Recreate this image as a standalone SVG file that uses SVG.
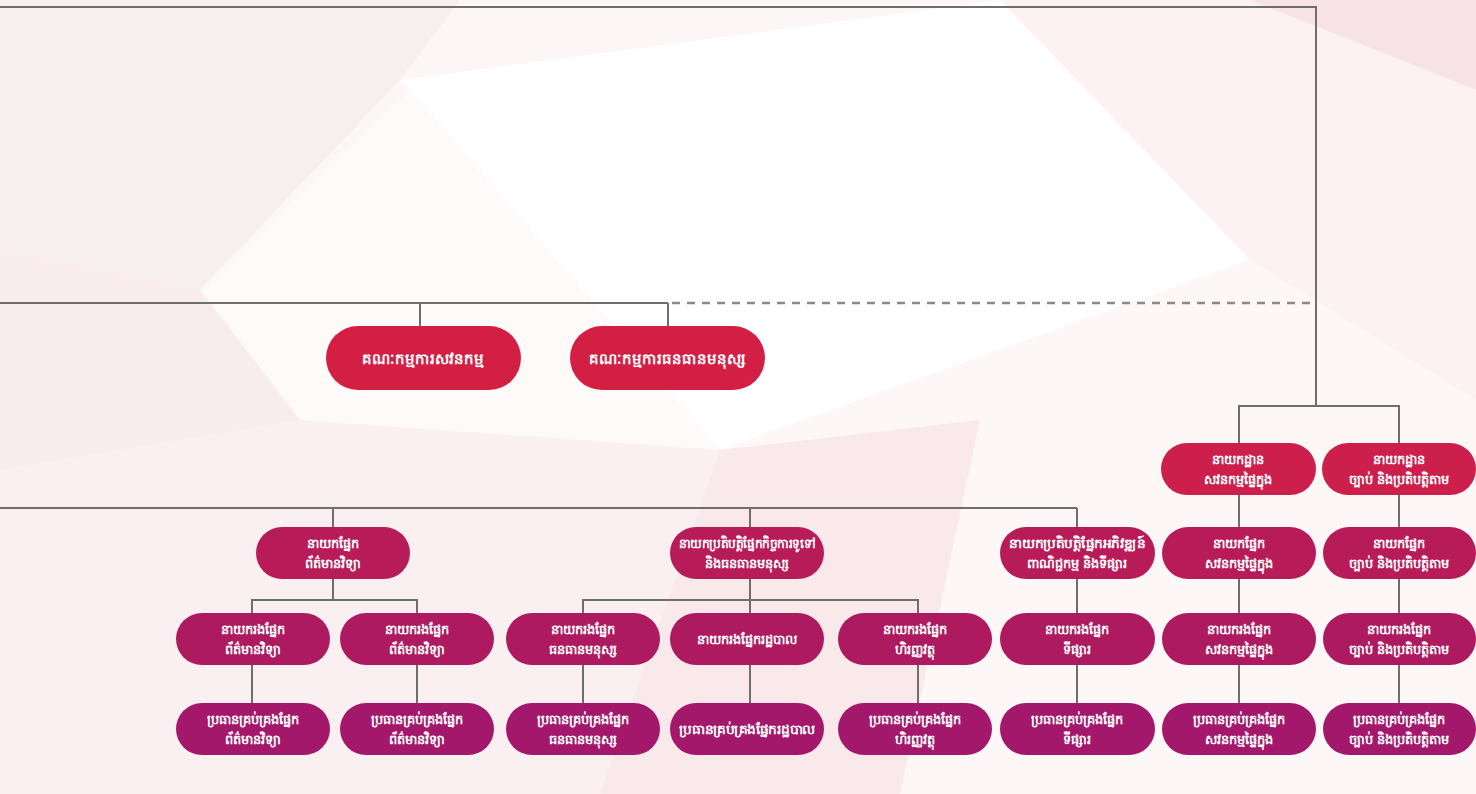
<svg xmlns="http://www.w3.org/2000/svg" width="1476" height="794" viewBox="0 0 1476 794">
<style>
.ln{stroke:#6e6e6e;stroke-width:2;fill:none}
.dash{stroke:#8a8a8a;stroke-width:2.5;fill:none;stroke-dasharray:8 7}
.t{font-family:"Noto Sans","DejaVu Sans",sans-serif;font-weight:bold;font-size:13px;fill:#ffffff;text-anchor:middle}
.tc{font-size:15px}
.cm{fill:#d41f45}
.l1{fill:#cc1f4c}
.l2{fill:#b81c58}
.l3{fill:#ad1a60}
.l4{fill:#a3186a}
</style>
<rect width="1476" height="794" fill="#fcf6f6"/>
<g id="background">
<polygon points="0,0 460,0 400,80 200,290 0,250" fill="#f7eeef"/>
<polygon points="400,80 1000,0 1250,260 720,450 410,90" fill="#ffffff"/>
<polygon points="200,290 410,90 720,450 300,420" fill="#fefafa"/>
<polygon points="1000,0 1476,0 1476,400 1250,260" fill="#fcf2f3"/>
<polygon points="0,250 200,290 300,420 0,470" fill="#f9eced"/>
<polygon points="720,450 1250,260 1476,400 1476,794 900,794" fill="#fdf7f7"/>
<polygon points="0,470 300,420 720,450 600,794 0,794" fill="#fbf0f1"/>
<polygon points="720,450 980,420 900,794 600,794" fill="#f9e9eb"/>
<polygon points="1250,0 1476,0 1476,90" fill="#f7e3e6"/>
</g>
<g id="connectors">
<polyline class="ln" points="0,7 1316,7 1316,406"/>
<line class="ln" x1="0" y1="303" x2="668" y2="303"/>
<line class="dash" x1="672" y1="303" x2="1316" y2="303"/>
<line class="ln" x1="420" y1="303" x2="420" y2="326"/>
<line class="ln" x1="668" y1="303" x2="668" y2="326"/>
<polyline class="ln" points="1239,443 1239,406 1399,406 1399,443"/>
<line class="ln" x1="0" y1="508" x2="1077" y2="508"/>
<line class="ln" x1="333" y1="508" x2="333" y2="527"/>
<line class="ln" x1="750" y1="508" x2="750" y2="527"/>
<line class="ln" x1="1077" y1="508" x2="1077" y2="527"/>
<line class="ln" x1="1239" y1="495" x2="1239" y2="527"/>
<line class="ln" x1="1399" y1="495" x2="1399" y2="527"/>
<line class="ln" x1="333" y1="579" x2="333" y2="600"/>
<polyline class="ln" points="252,613 252,600 417,600 417,613"/>
<line class="ln" x1="750" y1="579" x2="750" y2="613"/>
<polyline class="ln" points="583,613 583,600 918,600 918,613"/>
<line class="ln" x1="1077" y1="579" x2="1077" y2="613"/>
<line class="ln" x1="1239" y1="579" x2="1239" y2="613"/>
<line class="ln" x1="1399" y1="579" x2="1399" y2="613"/>
<line class="ln" x1="252" y1="665" x2="252" y2="703"/>
<line class="ln" x1="417" y1="665" x2="417" y2="703"/>
<line class="ln" x1="583" y1="665" x2="583" y2="703"/>
<line class="ln" x1="750" y1="665" x2="750" y2="703"/>
<line class="ln" x1="918" y1="665" x2="918" y2="703"/>
<line class="ln" x1="1077" y1="665" x2="1077" y2="703"/>
<line class="ln" x1="1239" y1="665" x2="1239" y2="703"/>
<line class="ln" x1="1399" y1="665" x2="1399" y2="703"/>
</g>
<g id="audit-committee"><rect class="cm" x="326" y="326" width="195" height="64" rx="32"/><text class="t tc" x="423" y="364">គណៈកម្មការសវនកម្ម</text></g>
<g id="hr-committee"><rect class="cm" x="570" y="326" width="195" height="64" rx="32"/><text class="t tc" x="667" y="364">គណៈកម្មការធនធានមនុស្ស</text></g>
<g id="dept-internal-audit"><rect class="l1" x="1161" y="443" width="155" height="52" rx="26"/><text class="t" x="1238" y="464">នាយកដ្ឋាន</text><text class="t" x="1238" y="484">សវនកម្មផ្ទៃក្នុង</text></g>
<g id="dept-legal"><rect class="l1" x="1322" y="443" width="154" height="52" rx="26"/><text class="t" x="1399" y="464">នាយកដ្ឋាន</text><text class="t" x="1399" y="484">ច្បាប់ និងប្រតិបត្តិតាម</text></g>
<g id="dir-it"><rect class="l2" x="256" y="527" width="154" height="52" rx="26"/><text class="t" x="333" y="548">នាយកផ្នែក</text><text class="t" x="333" y="568">ព័ត៌មានវិទ្យា</text></g>
<g id="exec-ga-hr"><rect class="l2" x="670" y="527" width="154" height="52" rx="26"/><text class="t" x="747" y="548" textLength="136" lengthAdjust="spacingAndGlyphs">នាយកប្រតិបត្តិផ្នែកកិច្ចការទូទៅ</text><text class="t" x="747" y="568">និងធនធានមនុស្ស</text></g>
<g id="exec-marketing"><rect class="l2" x="1000" y="527" width="155" height="52" rx="26"/><text class="t" x="1077" y="548" textLength="136" lengthAdjust="spacingAndGlyphs">នាយកប្រតិបត្តិផ្នែកអភិវឌ្ឍន៍</text><text class="t" x="1077" y="568">ពាណិជ្ជកម្ម និងទីផ្សារ</text></g>
<g id="dir-internal-audit"><rect class="l2" x="1162" y="527" width="154" height="52" rx="26"/><text class="t" x="1239" y="548">នាយកផ្នែក</text><text class="t" x="1239" y="568">សវនកម្មផ្ទៃក្នុង</text></g>
<g id="dir-legal"><rect class="l2" x="1323" y="527" width="153" height="52" rx="26"/><text class="t" x="1399" y="548">នាយកផ្នែក</text><text class="t" x="1399" y="568">ច្បាប់ និងប្រតិបត្តិតាម</text></g>
<g id="dep-it-1"><rect class="l3" x="176" y="613" width="154" height="52" rx="26"/><text class="t" x="253" y="634">នាយករងផ្នែក</text><text class="t" x="253" y="654">ព័ត៌មានវិទ្យា</text></g>
<g id="dep-it-2"><rect class="l3" x="340" y="613" width="154" height="52" rx="26"/><text class="t" x="417" y="634">នាយករងផ្នែក</text><text class="t" x="417" y="654">ព័ត៌មានវិទ្យា</text></g>
<g id="dep-hr"><rect class="l3" x="506" y="613" width="154" height="52" rx="26"/><text class="t" x="583" y="634">នាយករងផ្នែក</text><text class="t" x="583" y="654">ធនធានមនុស្ស</text></g>
<g id="dep-admin"><rect class="l3" x="670" y="613" width="154" height="52" rx="26"/><text class="t" x="747" y="644">នាយករងផ្នែករដ្ឋបាល</text></g>
<g id="dep-finance"><rect class="l3" x="838" y="613" width="154" height="52" rx="26"/><text class="t" x="915" y="634">នាយករងផ្នែក</text><text class="t" x="915" y="654">ហិរញ្ញវត្ថុ</text></g>
<g id="dep-marketing"><rect class="l3" x="1000" y="613" width="155" height="52" rx="26"/><text class="t" x="1077" y="634">នាយករងផ្នែក</text><text class="t" x="1077" y="654">ទីផ្សារ</text></g>
<g id="dep-internal-audit"><rect class="l3" x="1162" y="613" width="154" height="52" rx="26"/><text class="t" x="1239" y="634">នាយករងផ្នែក</text><text class="t" x="1239" y="654">សវនកម្មផ្ទៃក្នុង</text></g>
<g id="dep-legal"><rect class="l3" x="1323" y="613" width="153" height="52" rx="26"/><text class="t" x="1399" y="634">នាយករងផ្នែក</text><text class="t" x="1399" y="654">ច្បាប់ និងប្រតិបត្តិតាម</text></g>
<g id="mgr-it-1"><rect class="l4" x="176" y="703" width="154" height="52" rx="26"/><text class="t" x="253" y="724">ប្រធានគ្រប់គ្រងផ្នែក</text><text class="t" x="253" y="744">ព័ត៌មានវិទ្យា</text></g>
<g id="mgr-it-2"><rect class="l4" x="340" y="703" width="154" height="52" rx="26"/><text class="t" x="417" y="724">ប្រធានគ្រប់គ្រងផ្នែក</text><text class="t" x="417" y="744">ព័ត៌មានវិទ្យា</text></g>
<g id="mgr-hr"><rect class="l4" x="506" y="703" width="154" height="52" rx="26"/><text class="t" x="583" y="724">ប្រធានគ្រប់គ្រងផ្នែក</text><text class="t" x="583" y="744">ធនធានមនុស្ស</text></g>
<g id="mgr-admin"><rect class="l4" x="670" y="703" width="154" height="52" rx="26"/><text class="t" x="747" y="734" textLength="136" lengthAdjust="spacingAndGlyphs">ប្រធានគ្រប់គ្រងផ្នែករដ្ឋបាល</text></g>
<g id="mgr-finance"><rect class="l4" x="838" y="703" width="154" height="52" rx="26"/><text class="t" x="915" y="724">ប្រធានគ្រប់គ្រងផ្នែក</text><text class="t" x="915" y="744">ហិរញ្ញវត្ថុ</text></g>
<g id="mgr-marketing"><rect class="l4" x="1000" y="703" width="155" height="52" rx="26"/><text class="t" x="1077" y="724">ប្រធានគ្រប់គ្រងផ្នែក</text><text class="t" x="1077" y="744">ទីផ្សារ</text></g>
<g id="mgr-internal-audit"><rect class="l4" x="1162" y="703" width="154" height="52" rx="26"/><text class="t" x="1239" y="724">ប្រធានគ្រប់គ្រងផ្នែក</text><text class="t" x="1239" y="744">សវនកម្មផ្ទៃក្នុង</text></g>
<g id="mgr-legal"><rect class="l4" x="1323" y="703" width="153" height="52" rx="26"/><text class="t" x="1399" y="724">ប្រធានគ្រប់គ្រងផ្នែក</text><text class="t" x="1399" y="744">ច្បាប់ និងប្រតិបត្តិតាម</text></g>
</svg>
